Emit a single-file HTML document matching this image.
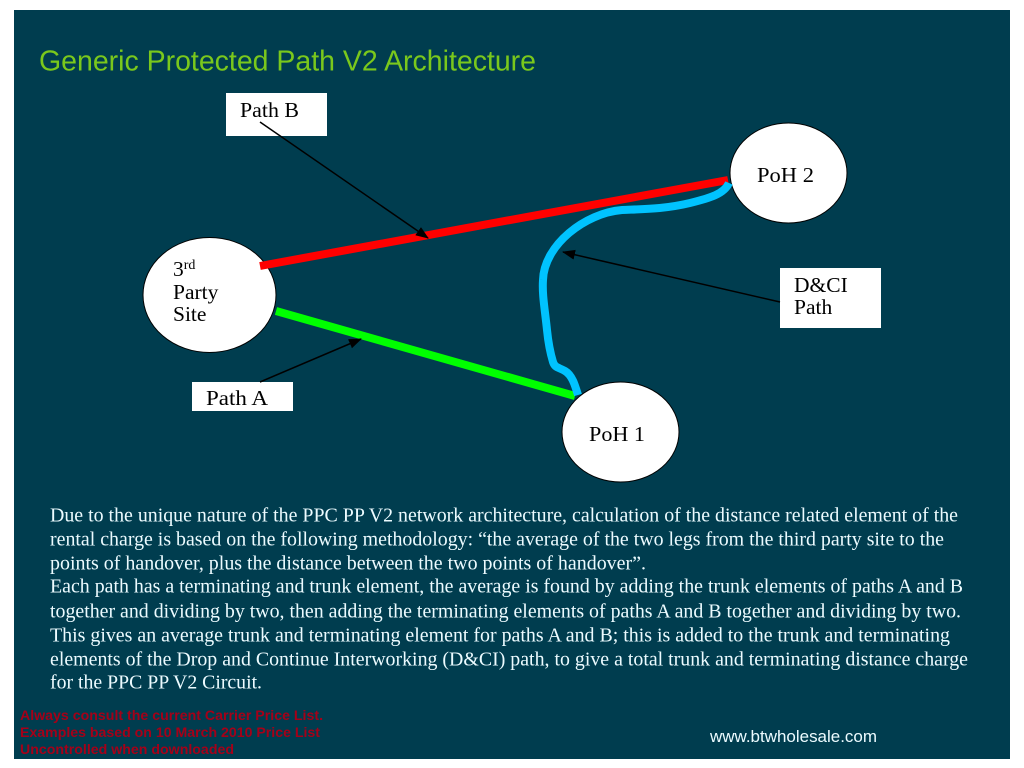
<!DOCTYPE html>
<html><head><meta charset="utf-8"><style>
html,body{margin:0;padding:0;background:#fff;width:1024px;height:768px;overflow:hidden}
svg{display:block}
.s{font-family:"Liberation Serif",serif;font-size:21.5px;fill:#000}
.b{font-family:"Liberation Serif",serif;font-size:20.2px;fill:#ecfbff}
.r{font-family:"Liberation Sans",sans-serif;font-size:14px;font-weight:bold;fill:#a50018}
</style></head><body>
<svg width="1024" height="768" viewBox="0 0 1024 768" xmlns="http://www.w3.org/2000/svg">
<defs><marker id="a" markerWidth="14" markerHeight="12" refX="12" refY="5" orient="auto" markerUnits="userSpaceOnUse"><path d="M0 0L13 5L0 10Z" fill="#000"/></marker></defs>
<rect x="14" y="10" width="996" height="749" fill="#003d4f"/>
<text x="39" y="70.5" font-family="Liberation Sans,sans-serif" font-size="29" fill="#7ac81c" textLength="497" lengthAdjust="spacingAndGlyphs">Generic Protected Path V2 Architecture</text>

<rect x="226" y="93" width="101" height="43" fill="#fff"/>
<rect x="192" y="382" width="101" height="29" fill="#fff"/>
<rect x="780" y="268" width="101" height="60" fill="#fff"/>

<ellipse cx="209.5" cy="295" rx="66.5" ry="57.5" fill="#fff" stroke="#000" stroke-width="1"/>
<ellipse cx="788.5" cy="173" rx="58.5" ry="50" fill="#fff" stroke="#000" stroke-width="1"/>
<ellipse cx="620.5" cy="432" rx="58.5" ry="50" fill="#fff" stroke="#000" stroke-width="1"/>

<line x1="260" y1="266" x2="728" y2="180" stroke="#ff0000" stroke-width="8"/>
<line x1="276" y1="311" x2="575" y2="396" stroke="#00ff00" stroke-width="8"/>
<path d="M578 395C575 385 572 375 565 371C558 367 555 368 553 362C550 352 548 340 547 330C545 310 542 295 543 280C544 245 585 213 622 210C645 209 665 209 690 203C710 198 724 194 729 183" fill="none" stroke="#00c3ff" stroke-width="8"/>

<line x1="260" y1="122" x2="428" y2="238" stroke="#000" stroke-width="1.5" marker-end="url(#a)"/>
<line x1="260" y1="382" x2="361" y2="339" stroke="#000" stroke-width="1.5" marker-end="url(#a)"/>
<line x1="780" y1="302" x2="563" y2="252" stroke="#000" stroke-width="1.5" marker-end="url(#a)"/>

<text class="s" x="240" y="117" textLength="59" lengthAdjust="spacingAndGlyphs">Path B</text>
<text class="s" x="206" y="405" textLength="62" lengthAdjust="spacingAndGlyphs">Path A</text>
<text class="s" x="794" y="292">D&amp;CI</text>
<text class="s" x="794" y="314">Path</text>
<text class="s" x="757" y="182" textLength="57" lengthAdjust="spacingAndGlyphs">PoH 2</text>
<text class="s" x="589" y="441" textLength="56" lengthAdjust="spacingAndGlyphs">PoH 1</text>
<text class="s" x="173" y="276">3<tspan font-size="14" dy="-7">rd</tspan></text>
<text class="s" x="173" y="299">Party</text>
<text class="s" x="173" y="321">Site</text>

<text class="b" x="50" y="521.5" textLength="908" lengthAdjust="spacingAndGlyphs">Due to the unique nature of the PPC PP V2 network architecture, calculation of the distance related element of the</text>
<text class="b" x="50" y="545.5" textLength="894" lengthAdjust="spacingAndGlyphs">rental charge is based on the following methodology: “the average of the two legs from the third party site to the</text>
<text class="b" x="50" y="569.5" textLength="596" lengthAdjust="spacingAndGlyphs">points of handover, plus the distance between the two points of handover”.</text>
<text class="b" x="50" y="592.5" textLength="913" lengthAdjust="spacingAndGlyphs">Each path has a terminating and trunk element, the average is found by adding the trunk elements of paths A and B</text>
<text class="b" x="50" y="617.5" textLength="911" lengthAdjust="spacingAndGlyphs">together and dividing by two, then adding the terminating elements of paths A and B together and dividing by two.</text>
<text class="b" x="50" y="641.5" textLength="900" lengthAdjust="spacingAndGlyphs">This gives an average trunk and terminating element for paths A and B; this is added to the trunk and terminating</text>
<text class="b" x="50" y="665.5" textLength="918" lengthAdjust="spacingAndGlyphs">elements of the Drop and Continue Interworking (D&amp;CI) path, to give a total trunk and terminating distance charge</text>
<text class="b" x="50" y="688.5" textLength="212" lengthAdjust="spacingAndGlyphs">for the PPC PP V2 Circuit.</text>

<text class="r" x="20" y="720" textLength="303" lengthAdjust="spacingAndGlyphs">Always consult the current Carrier Price List.</text>
<text class="r" x="20" y="737" textLength="300" lengthAdjust="spacingAndGlyphs">Examples based on 10 March 2010 Price List</text>
<text class="r" x="20" y="754" textLength="214" lengthAdjust="spacingAndGlyphs">Uncontrolled when downloaded</text>
<text x="710" y="742" font-family="Liberation Sans,sans-serif" font-size="17" fill="#ecfbff" textLength="167" lengthAdjust="spacingAndGlyphs">www.btwholesale.com</text>
</svg>
</body></html>
